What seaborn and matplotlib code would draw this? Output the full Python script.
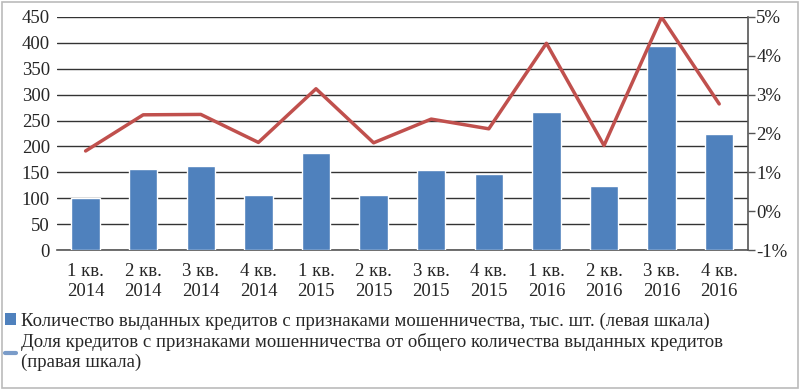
import numpy as np
import pandas as pd
import matplotlib
matplotlib.use("Agg")
import matplotlib.pyplot as plt
import seaborn as sns
from matplotlib.patches import Rectangle
from matplotlib.lines import Line2D
from matplotlib.ticker import FuncFormatter

# данные
quarters = ["1 кв.\n2014", "2 кв.\n2014", "3 кв.\n2014", "4 кв.\n2014",
            "1 кв.\n2015", "2 кв.\n2015", "3 кв.\n2015", "4 кв.\n2015",
            "1 кв.\n2016", "2 кв.\n2016", "3 кв.\n2016", "4 кв.\n2016"]
fraud_count = [100, 157, 163, 106, 187, 106, 155, 147, 266, 124, 393, 224]
fraud_share = [1.55, 2.48, 2.49, 1.77, 3.15, 1.76, 2.37, 2.12, 4.32, 1.69, 4.99, 2.76]

label_bar = "Количество выданных кредитов с признаками мошенничества, тыс. шт. (левая шкала)"
label_line = "Доля кредитов с признаками мошенничества от общего количества выданных кредитов\n(правая шкала)"

BLUE = "#4F81BD"
RED = "#C0504D"
FS = 13.5

sns.set_theme(style="white")
plt.rcParams["font.family"] = ["Liberation Serif", "DejaVu Serif"]
plt.rcParams["font.size"] = FS

df = pd.DataFrame({"quarter": quarters, "count": fraud_count, "share": fraud_share})
df["pos"] = np.arange(len(df))

fig = plt.figure(figsize=(8, 3.92), dpi=100)
ax = fig.add_axes([0.071, 0.362, 0.864, 0.595])

sns.barplot(data=df, x="quarter", y="count", color=BLUE, width=0.49,
            saturation=1, ax=ax, zorder=3)
ax.set_ylim(0, 450)
ax.set_yticks(np.arange(0, 451, 50))
ax.yaxis.grid(True, color="#333333", linewidth=1.0)
ax.set_axisbelow(True)
ax.set_xlabel("")
ax.set_ylabel("")
ax.tick_params(axis="both", length=0, labelsize=FS, pad=5)
ax.tick_params(axis="x", pad=9)
for lbl in ax.get_xticklabels():
    lbl.set_linespacing(1.3)
for s in ["left", "top", "right"]:
    ax.spines[s].set_visible(False)
ax.spines["bottom"].set_color("#555555")
ax.spines["bottom"].set_linewidth(1.2)
ax.set_xlim(-0.5, len(df) - 0.5)

ax2 = ax.twinx()
sns.lineplot(data=df, x="pos", y="share", color=RED, linewidth=2.5, ax=ax2)
ax2.set_ylim(-1, 5)
ax2.set_yticks(np.arange(-1, 6, 1))
ax2.yaxis.set_major_formatter(FuncFormatter(lambda v, _: f"{int(round(v))}%"))
ax2.set_ylabel("")
ax2.set_xlabel("")
ax2.tick_params(axis="y", length=5, width=1, color="#555555", labelsize=FS, pad=1, direction="out", right=True)
for s in ["left", "top", "bottom"]:
    ax2.spines[s].set_visible(False)
ax2.spines["right"].set_color("#555555")
ax2.spines["right"].set_linewidth(1.2)
ax2.set_xlim(-0.5, len(df) - 0.5)

handles = [
    Rectangle((0, 0), 1, 1, facecolor=BLUE, edgecolor="none"),
    Line2D([0], [0], color="#7A9CC9", linewidth=3),
]
fig.legend(handles, [label_bar, label_line], loc="upper left",
           bbox_to_anchor=(-0.008, 0.232), frameon=False, fontsize=FS,
           handlelength=0.6, handleheight=0.6, handletextpad=0.25,
           labelspacing=0.2, borderaxespad=0.2)

fig.patches.append(Rectangle((0.003, 0.01), 0.994, 0.985, transform=fig.transFigure,
                             fill=False, edgecolor="#BBBBBB", linewidth=1.2))

fig.savefig("out.png", dpi=100)
